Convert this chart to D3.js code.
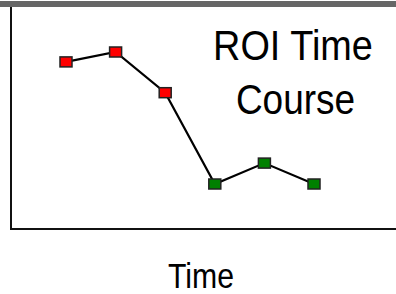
<!DOCTYPE html>
<html>
<head>
<meta charset="utf-8">
<script src="https://cdn.jsdelivr.net/npm/d3@7"></script>
<style>
  body { margin: 0; background: #fff; }
  svg { display: block; }
</style>
</head>
<body>
<svg width="396" height="294"></svg>
<script>
// data: time points and ROI signal
var times = [1, 2, 3, 4, 5, 6];
var values = [7.55, 8.0, 6.15, 2.0, 2.95, 2.0];
var phase = ["a", "a", "a", "b", "b", "b"];

var svg = d3.select("svg");
var W = 396, H = 294;

var x = d3.scaleLinear().domain([1, 6]).range([66, 314]);
var y = d3.scaleLinear().domain([0, 10]).range([228, 8]);
var color = d3.scaleOrdinal().domain(["a", "b"]).range(["#ff0000", "#008000"]);

var pts = times.map(function(t, i) { return {t: t, v: values[i], p: phase[i]}; });

// top grey bar
svg.append("rect")
  .attr("x", 0).attr("y", 1)
  .attr("width", W).attr("height", 6)
  .attr("fill", "#666");

// axes (plain lines)
svg.append("line")
  .attr("x1", 11).attr("x2", 11)
  .attr("y1", 7).attr("y2", 230)
  .attr("stroke", "#111").attr("stroke-width", 2);
svg.append("line")
  .attr("x1", 10).attr("x2", W)
  .attr("y1", 229).attr("y2", 229)
  .attr("stroke", "#111").attr("stroke-width", 2);

// line
var line = d3.line()
  .x(function(d) { return x(d.t); })
  .y(function(d) { return y(d.v); });

svg.append("path")
  .datum(pts)
  .attr("d", line)
  .attr("fill", "none")
  .attr("stroke", "#000")
  .attr("stroke-width", 2.2);

// markers
svg.selectAll(".mk")
  .data(pts)
  .enter().append("rect")
  .attr("class", "mk")
  .attr("x", function(d) { return x(d.t) - 6; })
  .attr("y", function(d) { return y(d.v) - 5; })
  .attr("width", 12)
  .attr("height", 10)
  .attr("fill", function(d) { return color(d.p); })
  .attr("stroke", "#222")
  .attr("stroke-width", 1.5);

// condensed text helper
function label(cx, cy, size, sx, txt) {
  svg.append("g")
    .attr("transform", "translate(" + cx + "," + cy + ") scale(" + sx + ",1)")
    .append("text")
    .attr("text-anchor", "middle")
    .attr("font-family", "Liberation Sans, Arial, sans-serif")
    .attr("font-size", size)
    .attr("fill", "#000")
    .text(txt);
}

label(293, 59.5, 43, 0.88, "ROI Time");
label(295.5, 114, 42, 0.88, "Course");
label(201, 287.5, 36, 0.84, "Time");
</script>
</body>
</html>
